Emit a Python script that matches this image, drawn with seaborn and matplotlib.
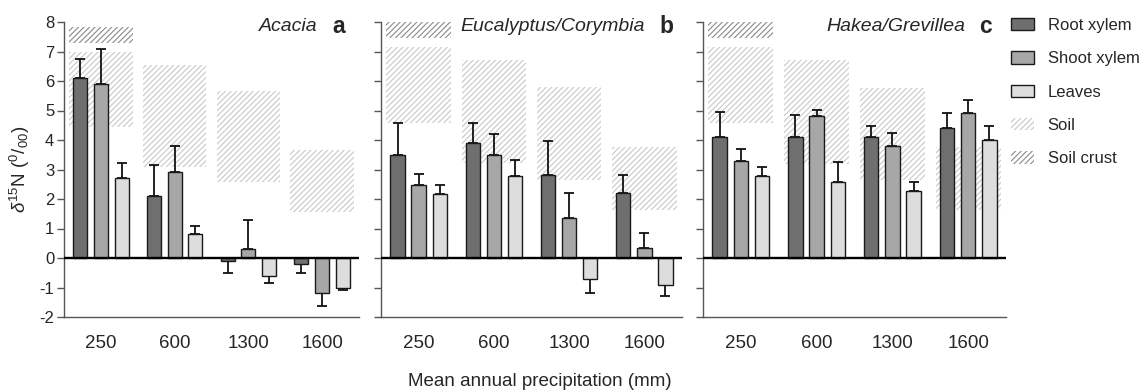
import numpy as np
import pandas as pd
import matplotlib
matplotlib.use("Agg")
import matplotlib.pyplot as plt
import seaborn as sns
from matplotlib.patches import Rectangle, Patch

# ---------------- data ----------------
precip = ["250", "600", "1300", "1600"]
tissues = ["Root xylem", "Shoot xylem", "Leaves"]
panel_titles = ["Acacia", "Eucalyptus/Corymbia", "Hakea/Grevillea"]
panel_letters = ["a", "b", "c"]

acacia_root = [6.1, 2.1, -0.1, -0.2]
acacia_shoot = [5.9, 2.9, 0.3, -1.2]
acacia_leaves = [2.7, 0.8, -0.6, -1.0]
acacia_root_err = [0.65, 1.05, 0.4, 0.3]
acacia_shoot_err = [1.17, 0.88, 1.0, 0.42]
acacia_leaves_err = [0.52, 0.3, 0.26, 0.1]

euc_root = [3.5, 3.9, 2.8, 2.2]
euc_shoot = [2.48, 3.5, 1.36, 0.33]
euc_leaves = [2.17, 2.78, -0.7, -0.9]
euc_root_err = [1.07, 0.67, 1.17, 0.62]
euc_shoot_err = [0.38, 0.7, 0.85, 0.53]
euc_leaves_err = [0.32, 0.53, 0.5, 0.38]

hakea_root = [4.1, 4.1, 4.1, 4.4]
hakea_shoot = [3.28, 4.83, 3.8, 4.9]
hakea_leaves = [2.77, 2.58, 2.26, 4.0]
hakea_root_err = [0.85, 0.75, 0.38, 0.52]
hakea_shoot_err = [0.4, 0.18, 0.44, 0.47]
hakea_leaves_err = [0.3, 0.66, 0.32, 0.49]

# soil range (top, bottom) per precipitation class
acacia_soil_top = [7.0, 6.55, 5.65, 3.65]
acacia_soil_bottom = [4.45, 3.1, 2.57, 1.56]
acacia_crust = [7.28, 7.83]          # 250 mm only
euc_soil_top = [7.16, 6.71, 5.79, 3.76]
euc_soil_bottom = [4.57, 3.21, 2.64, 1.63]
euc_crust = [7.45, 8.0]
hakea_soil_top = [7.16, 6.71, 5.76, 3.76]
hakea_soil_bottom = [4.57, 3.2, 2.64, 1.63]
hakea_crust = [7.45, 8.0]

panels = [
    dict(vals=[acacia_root, acacia_shoot, acacia_leaves],
         errs=[acacia_root_err, acacia_shoot_err, acacia_leaves_err],
         soil=(acacia_soil_top, acacia_soil_bottom), crust=acacia_crust),
    dict(vals=[euc_root, euc_shoot, euc_leaves],
         errs=[euc_root_err, euc_shoot_err, euc_leaves_err],
         soil=(euc_soil_top, euc_soil_bottom), crust=euc_crust),
    dict(vals=[hakea_root, hakea_shoot, hakea_leaves],
         errs=[hakea_root_err, hakea_shoot_err, hakea_leaves_err],
         soil=(hakea_soil_top, hakea_soil_bottom), crust=hakea_crust),
]

# ---------------- style ----------------
sns.set_style("ticks")
plt.rcParams["font.family"] = ["Liberation Sans", "DejaVu Sans"]
plt.rcParams["mathtext.fontset"] = "custom"
plt.rcParams["mathtext.rm"] = "Liberation Sans"
plt.rcParams["mathtext.it"] = "Liberation Sans:italic"
plt.rcParams["hatch.linewidth"] = 0.8
plt.rcParams["axes.unicode_minus"] = False

bar_colors = ["#6f6f6f", "#a7a7a7", "#dcdddc"]
soil_color = "#c8c8c8"
crust_color = "#8a8a8a"
spine_color = "#555555"

fig = plt.figure(figsize=(11.45, 3.92), dpi=100)
H = 392.0
W = 1145.0
bottom = 1 - 317 / H
height = (317 - 22) / H
axes_px = [(64, 359), (381, 682), (703, 1006)]
letter_x = [0.953, 0.970, 0.954]
title_x = [0.861, 0.877, 0.865]

for k, (pdata, (x0, x1)) in enumerate(zip(panels, axes_px)):
    ax = fig.add_axes([x0 / W, bottom, (x1 - x0) / W, height])
    rows = []
    for t, vals in zip(tissues, pdata["vals"]):
        for p, v in zip(precip, vals):
            rows.append(dict(precip=p, tissue=t, value=v))
    df = pd.DataFrame(rows)

    sns.barplot(data=df, x="precip", y="value", hue="tissue", order=precip,
                hue_order=tissues, palette=bar_colors, width=0.84, gap=0.32,
                edgecolor="#1a1a1a", linewidth=1.0, errorbar=None,
                legend=False, ax=ax, zorder=3)

    # error bars (one-sided)
    for cont, vals, errs in zip(ax.containers, pdata["vals"], pdata["errs"]):
        for patch, v, e in zip(cont.patches, vals, errs):
            cx = patch.get_x() + patch.get_width() / 2
            yerr = [[0], [e]] if v >= 0 else [[e], [0]]
            ax.errorbar([cx], [v], yerr=yerr, fmt="none", ecolor="#111111",
                        elinewidth=1.3, capsize=3.5, capthick=1.3, zorder=2.5)

    # soil ranges
    tops, bots = pdata["soil"]
    for i, (t, b) in enumerate(zip(tops, bots)):
        ax.add_patch(Rectangle((i - 0.43, b), 0.86, t - b, facecolor="white",
                               edgecolor=soil_color, linewidth=0,
                               hatch="//////", zorder=1))
    cb, ct = pdata["crust"]
    ax.add_patch(Rectangle((0 - 0.43, cb), 0.86, ct - cb, facecolor="white",
                           edgecolor=crust_color, linewidth=0,
                           hatch="//////", zorder=1))

    ax.axhline(0, color="black", lw=1.7, zorder=4)
    ax.set_xlim(-0.5, 3.5)
    ax.set_ylim(-2, 8)
    ax.set_yticks(range(-2, 9))
    sns.despine(ax=ax)
    for s in ["left", "bottom"]:
        ax.spines[s].set_color(spine_color)
        ax.spines[s].set_linewidth(1.0)
    ax.tick_params(axis="y", length=5, width=1.0, color=spine_color,
                   labelsize=12, pad=2)
    ax.tick_params(axis="x", length=0, labelsize=13.5, pad=13)
    ax.set_xlabel("")
    if k == 0:
        ax.set_ylabel(r"$\delta^{15}$N ($^{0}/_{00}$)", fontsize=13.5,
                      labelpad=5)
    else:
        ax.set_ylabel("")
        ax.tick_params(axis="y", labelleft=False)

    ax.text(letter_x[k], 0.985, panel_letters[k], transform=ax.transAxes,
            ha="right", va="center", fontsize=16.5, fontweight="bold")
    ax.text(title_x[k], 0.985, panel_titles[k], transform=ax.transAxes,
            ha="right", va="center", fontsize=14, fontstyle="italic")

fig.text(540 / W, 1 - 382 / H, "Mean annual precipitation (mm)",
         ha="center", va="center", fontsize=13.5)

handles = [Patch(facecolor=c, edgecolor="#1a1a1a", linewidth=1.0)
           for c in bar_colors]
handles.append(Patch(facecolor="white", edgecolor=soil_color, linewidth=0,
                     hatch="//////"))
handles.append(Patch(facecolor="white", edgecolor=crust_color, linewidth=0,
                     hatch="//////"))
labels = tissues + ["Soil", "Soil crust"]
fig.legend(handles, labels, loc="upper left",
           bbox_to_anchor=(1011 / W, 1 - 18 / H), frameon=False,
           fontsize=12, borderpad=0, borderaxespad=0, handlelength=1.4,
           handleheight=0.75, handletextpad=0.8, labelspacing=1.1)

fig.savefig("out.png", dpi=100)
